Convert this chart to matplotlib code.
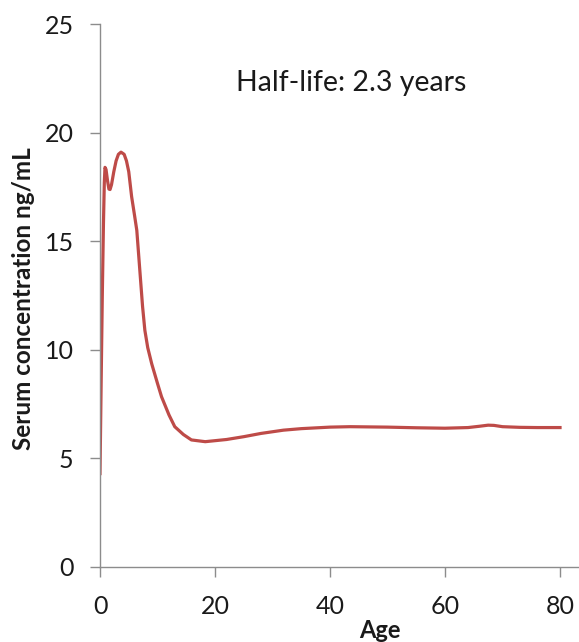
import matplotlib
matplotlib.use("Agg")
import matplotlib.pyplot as plt

plt.rcParams['font.family'] = ['Lato', 'DejaVu Sans']

ages = [0, 0.2, 0.4, 0.6, 0.75, 0.87, 1.05, 1.3, 1.55, 1.75, 2.0, 2.4, 2.8,
        3.2, 3.65, 4.2, 4.6, 5.0, 5.5, 6.0, 6.4, 7.0, 7.4, 7.8, 8.3, 9.0, 10.0,
        10.7, 12.0, 13.0, 14.5, 15.9, 18.3, 22, 25, 28, 31.9, 35, 40, 43.5,
        50, 55, 60, 64, 66, 67.5, 68.5, 70, 73, 76, 80]
conc = [4.3, 8.5, 12.5, 15.8, 17.7, 18.4, 18.3, 17.8, 17.4, 17.38, 17.6,
        18.2, 18.7, 19.0, 19.1, 19.0, 18.7, 18.2, 17.05, 16.2, 15.5, 13.4,
        12.0, 10.9, 10.1, 9.35, 8.45, 7.84, 7.0, 6.46, 6.1, 5.85, 5.77, 5.87,
        6.0, 6.15, 6.3, 6.37, 6.44, 6.46, 6.44, 6.41, 6.39, 6.42, 6.48, 6.53,
        6.52, 6.46, 6.43, 6.42, 6.42]
xticks = [0, 20, 40, 60, 80]
yticks = [0, 5, 10, 15, 20, 25]
annotation = "Half-life: 2.3 years"

W, H = 579, 642
fig = plt.figure(figsize=(W / 100, H / 100), dpi=100)
ax = fig.add_axes([100 / W, 1 - 567 / H, 1 - 100 / W, (567 - 24) / H])

ax.plot(ages, conc, color='#BE4B48', lw=2.3, solid_joinstyle='round')

ax.set_xlim(0, 83.3)
ax.set_ylim(0, 25)
ax.set_xticks(xticks)
ax.set_yticks(yticks)

spine_c = '#8C8C8C'
for s in ['top', 'right']:
    ax.spines[s].set_visible(False)
for s in ['left', 'bottom']:
    ax.spines[s].set_color(spine_c)
    ax.spines[s].set_linewidth(1.0)
ax.tick_params(axis='both', direction='out', length=7, width=1.0,
               color=spine_c, labelsize=18, labelcolor='#1a1a1a')
ax.tick_params(axis='y', pad=12)
ax.tick_params(axis='x', pad=13)

ax.set_xlabel('Age', fontsize=17, fontweight='bold', color='#1a1a1a')
ax.xaxis.set_label_coords((380 - 100) / 479, (567 - 619) / 543)
ax.set_ylabel('Serum concentration ng/mL', fontsize=17.5, fontweight='bold',
              color='#1a1a1a')
ax.yaxis.set_label_coords((35 - 100) / 479, (567 - 299) / 543)

ax.text(43.7, 22.3, annotation, fontsize=20.5, ha='center', va='center',
        color='#1a1a1a')

fig.savefig('out.png', dpi=100)
